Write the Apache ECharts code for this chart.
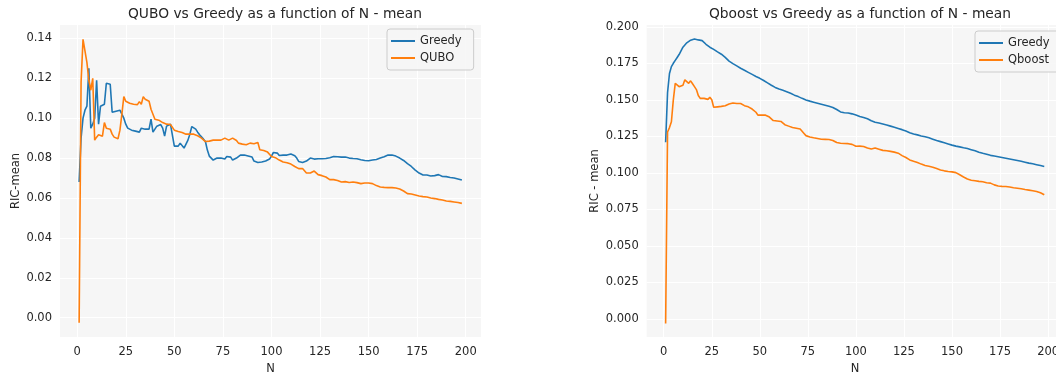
<!DOCTYPE html>
<html>
<head>
<meta charset="utf-8">
<script src="https://cdn.jsdelivr.net/npm/echarts@6/dist/echarts.min.js"></script>
<style>
  html, body { margin: 0; padding: 0; background: #ffffff; }
  #chart { width: 1056px; height: 374px; }
</style>
</head>
<body>
<div id="chart"></div>
<script>
// Mean RIC for N = 1 .. 198 selected features
const quboGreedy = [
  0.068, 0.090, 0.100, 0.104, 0.106, 0.125, 0.095, 0.097, 0.100, 0.119,
  0.097, 0.106, 0.106, 0.107, 0.1175, 0.1175, 0.117, 0.103, 0.103, 0.1035,
  0.104, 0.104, 0.102, 0.100, 0.097, 0.095, 0.0945, 0.094, 0.0938, 0.0935,
  0.093, 0.093, 0.095, 0.0945, 0.0945, 0.094, 0.0945, 0.0995, 0.093, 0.092,
  0.096, 0.097, 0.0968, 0.095, 0.091, 0.096, 0.0965, 0.097, 0.0978, 0.086,
  0.085, 0.086, 0.0875, 0.087, 0.085, 0.084, 0.089, 0.092, 0.0958, 0.095,
  0.0945, 0.093, 0.0917, 0.091, 0.0895, 0.0883, 0.084, 0.081, 0.080, 0.079,
  0.0795, 0.080, 0.0808, 0.080, 0.079, 0.0795, 0.0808, 0.081, 0.0805, 0.079,
  0.0795, 0.080, 0.081, 0.0815, 0.0817, 0.0815, 0.0815, 0.081, 0.081, 0.0805,
  0.0785, 0.0775, 0.0778, 0.078, 0.078, 0.0782, 0.0785, 0.079, 0.0795, 0.081,
  0.0828, 0.083, 0.0825, 0.0813, 0.0812, 0.0815, 0.0813, 0.0815, 0.0818, 0.082,
  0.0815, 0.0812, 0.080, 0.0783, 0.078, 0.0778, 0.078, 0.0785, 0.0795, 0.080,
  0.0798, 0.0795, 0.0797, 0.0797, 0.0795, 0.0797, 0.0795, 0.0798, 0.080, 0.0802,
  0.0805, 0.0808, 0.081, 0.0807, 0.0805, 0.0805, 0.0803, 0.0805, 0.0803, 0.080,
  0.0798, 0.0798, 0.080, 0.0797, 0.0795, 0.0792, 0.079, 0.0788, 0.0787, 0.0787,
  0.0788, 0.079, 0.0792, 0.0793, 0.0795, 0.080, 0.0803, 0.0807, 0.081, 0.0815,
  0.0817, 0.0815, 0.0812, 0.081, 0.0805, 0.080, 0.0795, 0.0788, 0.078, 0.0772,
  0.0767, 0.0758, 0.075, 0.074, 0.0733, 0.0725, 0.0717, 0.0715, 0.0717, 0.0715,
  0.0712, 0.071, 0.0712, 0.0712, 0.0715, 0.0717, 0.0712, 0.0708, 0.0705, 0.0707,
  0.0705, 0.0703, 0.0703, 0.070, 0.0698, 0.0695, 0.0692, 0.069
];
const quboValues = [
  -0.0025, 0.118, 0.1395, 0.1395, 0.128, 0.119, 0.114, 0.120, 0.089, 0.0905,
  0.0917, 0.0925, 0.091, 0.0978, 0.095, 0.095, 0.0945, 0.092, 0.0905, 0.0898,
  0.0897, 0.094, 0.102, 0.1108, 0.1085, 0.1075, 0.1075, 0.1073, 0.107, 0.107,
  0.1068, 0.1083, 0.107, 0.1108, 0.1095, 0.109, 0.1085, 0.1045, 0.102, 0.0995,
  0.099, 0.099, 0.0992, 0.0978, 0.0978, 0.097, 0.0965, 0.0968, 0.097, 0.094,
  0.0935, 0.0933, 0.093, 0.0928, 0.0925, 0.092, 0.0917, 0.092, 0.0925, 0.092,
  0.0915, 0.0912, 0.0905, 0.090, 0.0895, 0.0883, 0.0883, 0.0885, 0.0888, 0.089,
  0.0888, 0.089, 0.0892, 0.089, 0.0895, 0.090, 0.0895, 0.089, 0.0895, 0.090,
  0.0897, 0.0888, 0.0875, 0.0867, 0.087, 0.0868, 0.0867, 0.0872, 0.0875, 0.0873,
  0.0872, 0.0875, 0.0878, 0.0842, 0.084, 0.0838, 0.0835, 0.083, 0.082, 0.0808,
  0.0805, 0.0802, 0.080, 0.079, 0.0783, 0.078, 0.0778, 0.0777, 0.0775, 0.077,
  0.0763, 0.0758, 0.0752, 0.0747, 0.0745, 0.0748, 0.0738, 0.0725, 0.0718, 0.0725,
  0.0733, 0.0735, 0.0728, 0.0717, 0.0715, 0.0712, 0.0707, 0.0705, 0.0698, 0.0692,
  0.0693, 0.0692, 0.0692, 0.0688, 0.0683, 0.068, 0.068, 0.0682, 0.068, 0.0678,
  0.068, 0.068, 0.068, 0.0677, 0.0673, 0.0672, 0.0673, 0.0675, 0.0675, 0.0675,
  0.0673, 0.0672, 0.0668, 0.0662, 0.0657, 0.0655, 0.0655, 0.0653, 0.0652, 0.0652,
  0.0653, 0.0652, 0.0652, 0.065, 0.0648, 0.0645, 0.0642, 0.0635, 0.0627, 0.0622,
  0.062, 0.062, 0.0618, 0.0615, 0.0612, 0.061, 0.0608, 0.0607, 0.0605, 0.0605,
  0.0603, 0.060, 0.0597, 0.0597, 0.0595, 0.0593, 0.0592, 0.059, 0.0588, 0.0585,
  0.0585, 0.0583, 0.058, 0.058, 0.0578, 0.0577, 0.0575, 0.0573
];
const qboostGreedy = [
  0.121, 0.155, 0.168, 0.1727, 0.175, 0.177, 0.179, 0.181, 0.1835, 0.186,
  0.1875, 0.189, 0.190, 0.1908, 0.1914, 0.1916, 0.1914, 0.191, 0.1907, 0.1905,
  0.1895, 0.188, 0.187, 0.186, 0.185, 0.1845, 0.1835, 0.1828, 0.182, 0.1812,
  0.1803, 0.179, 0.1778, 0.1765, 0.1754, 0.1748, 0.174, 0.1732, 0.1725, 0.1716,
  0.1708, 0.1702, 0.1695, 0.1688, 0.168, 0.1674, 0.1667, 0.166, 0.1654, 0.1647,
  0.164, 0.1632, 0.1624, 0.1616, 0.1608, 0.160, 0.1592, 0.1585, 0.1578, 0.1574,
  0.157, 0.1566, 0.1562, 0.1556, 0.155, 0.1545, 0.1538, 0.1532, 0.1526, 0.1522,
  0.1516, 0.151, 0.1505, 0.1499, 0.1495, 0.1491, 0.1488, 0.1484, 0.148, 0.1477,
  0.1473, 0.147, 0.1466, 0.1463, 0.146, 0.1456, 0.1452, 0.1448, 0.1442, 0.1434,
  0.1425, 0.1417, 0.1413, 0.1412, 0.1411, 0.141, 0.1408, 0.1404, 0.140, 0.1396,
  0.1391, 0.1386, 0.1383, 0.1379, 0.1374, 0.137, 0.1364, 0.1357, 0.135, 0.1347,
  0.1344, 0.1341, 0.1338, 0.1335, 0.1331, 0.1328, 0.1324, 0.132, 0.1316, 0.1312,
  0.1308, 0.1304, 0.130, 0.1296, 0.1291, 0.1286, 0.128, 0.1275, 0.127, 0.1266,
  0.1263, 0.126, 0.1256, 0.1253, 0.125, 0.1247, 0.1244, 0.124, 0.1235, 0.1231,
  0.1227, 0.1222, 0.1218, 0.1214, 0.121, 0.1206, 0.1202, 0.1198, 0.1194, 0.119,
  0.1186, 0.1183, 0.118, 0.1178, 0.1175, 0.1172, 0.117, 0.1167, 0.1163, 0.1159,
  0.1155, 0.1151, 0.1146, 0.1141, 0.1137, 0.1134, 0.1131, 0.1128, 0.1124, 0.112,
  0.1117, 0.1115, 0.1112, 0.111, 0.1108, 0.1105, 0.1103, 0.110, 0.1098, 0.1095,
  0.1093, 0.109, 0.1088, 0.1085, 0.1082, 0.1079, 0.1076, 0.1073, 0.107, 0.1067,
  0.1064, 0.1062, 0.1059, 0.1056, 0.1053, 0.105, 0.1047, 0.1044
];
const qboostValues = [
  -0.003, 0.128, 0.131, 0.135, 0.150, 0.1613, 0.162, 0.159, 0.1595, 0.160,
  0.1637, 0.165, 0.1613, 0.163, 0.161, 0.159, 0.157, 0.153, 0.151, 0.1499,
  0.151, 0.1517, 0.1503, 0.1517, 0.150, 0.1449, 0.145, 0.1452, 0.1453, 0.1455,
  0.1458, 0.146, 0.1464, 0.1472, 0.1481, 0.1478, 0.147, 0.1475, 0.1485, 0.1475,
  0.1464, 0.146, 0.1458, 0.1452, 0.1445, 0.1437, 0.143, 0.1415, 0.1395, 0.1388,
  0.1395, 0.140, 0.1395, 0.1388, 0.1382, 0.137, 0.1358, 0.1356, 0.1355, 0.1354,
  0.1352, 0.1345, 0.133, 0.1325, 0.132, 0.1314, 0.131, 0.1308, 0.1305, 0.1302,
  0.130, 0.1288, 0.127, 0.1255, 0.1248, 0.1246, 0.1243, 0.124, 0.1238, 0.1235,
  0.1232, 0.123, 0.1228, 0.1229, 0.1227, 0.1228, 0.1226, 0.1222, 0.1215, 0.1208,
  0.1205, 0.1203, 0.1202, 0.1201, 0.1202, 0.120, 0.120, 0.1195, 0.1188, 0.1182,
  0.1181, 0.1183, 0.1182, 0.1181, 0.1176, 0.117, 0.1164, 0.1163, 0.1167, 0.117,
  0.1168, 0.1162, 0.1157, 0.1154, 0.1153, 0.1151, 0.1148, 0.1147, 0.1145, 0.1142,
  0.1138, 0.1135, 0.1128, 0.1118, 0.1112, 0.1105, 0.1095, 0.1089, 0.1085, 0.1079,
  0.1073, 0.1071, 0.1066, 0.106, 0.1055, 0.105, 0.1048, 0.1045, 0.1042, 0.1039,
  0.1035, 0.103, 0.1024, 0.102, 0.1017, 0.1014, 0.1012, 0.101, 0.1009, 0.1007,
  0.1005, 0.1002, 0.0995, 0.0987, 0.098, 0.0972, 0.0965, 0.0958, 0.0952, 0.095,
  0.0948, 0.0946, 0.0944, 0.0942, 0.0941, 0.0939, 0.0936, 0.0933, 0.0931, 0.093,
  0.0925, 0.0918, 0.0912, 0.091, 0.0909, 0.0908, 0.0907, 0.0907, 0.0906, 0.0903,
  0.0901, 0.0898, 0.0896, 0.0895, 0.0893, 0.0891, 0.0888, 0.0886, 0.0884, 0.0882,
  0.088, 0.0878, 0.0875, 0.0873, 0.0869, 0.0864, 0.0857, 0.085
];

const xTicks = [0, 25, 50, 75, 100, 125, 150, 175, 200];
const leftYTicks = [0, 0.02, 0.04, 0.06, 0.08, 0.10, 0.12, 0.14];
const rightYTicks = [0, 0.025, 0.05, 0.075, 0.1, 0.125, 0.15, 0.175, 0.2];

// x position of each value is its N (1-based)
const pairs = vals => vals.map((v, i) => [i + 1, v]);

const FONT = 'DejaVu Sans';
const TEXT = '#262626';
const BLUE = '#1f77b4';
const ORANGE = '#ff7f0e';

function xAxis(gridIndex) {
  return {
    type: 'value', gridIndex,
    min: -8.85, max: 207.85,
    name: 'N', nameLocation: 'middle', nameGap: 22,
    nameTextStyle: { fontFamily: FONT, fontSize: 11.5, color: TEXT },
    axisLine: { show: false },
    axisTick: { show: false, customValues: xTicks },
    axisLabel: { customValues: xTicks, fontFamily: FONT, fontSize: 11.5, color: TEXT, margin: 9 },
    splitLine: { show: true, lineStyle: { color: '#ffffff', width: 1 } }
  };
}

function yAxis(gridIndex, min, max, ticks, digits, name, gap) {
  return {
    type: 'value', gridIndex, min, max,
    name, nameLocation: 'middle', nameGap: gap,
    nameTextStyle: { fontFamily: FONT, fontSize: 11.5, color: TEXT },
    axisLine: { show: false },
    axisTick: { show: false, customValues: ticks },
    axisLabel: {
      customValues: ticks, fontFamily: FONT, fontSize: 11.5, color: TEXT, margin: 8,
      formatter: v => Number(v).toFixed(digits)
    },
    splitLine: { show: true, lineStyle: { color: '#ffffff', width: 1 } }
  };
}

function line(name, data, color, idx) {
  return {
    type: 'line', name, data: pairs(data),
    xAxisIndex: idx, yAxisIndex: idx,
    symbol: 'none', animation: false,
    lineStyle: { color, width: 1.6 },
    itemStyle: { color }
  };
}

function legend(names, left, top) {
  return {
    data: names, orient: 'vertical', left, top,
    icon: 'rect', itemWidth: 24, itemHeight: 2, itemGap: 5,
    padding: [6, 12, 6, 4],
    backgroundColor: 'rgba(246,246,246,0.85)',
    borderColor: '#cccccc', borderWidth: 1, borderRadius: 3,
    textStyle: { fontFamily: FONT, fontSize: 11.5, color: TEXT },
    selectedMode: false
  };
}

function plotArea(left, width) {
  return {
    left, top: 25, width, height: 312,
    outerBoundsMode: 'none', containLabel: false,
    backgroundColor: '#f6f6f6', show: true, borderWidth: 0
  };
}

const chart = echarts.init(document.getElementById('chart'), null, { renderer: 'canvas' });
chart.setOption({
  backgroundColor: '#ffffff',
  animation: false,
  title: [
    { text: 'QUBO vs Greedy as a function of N - mean', left: 270, top: 2, textAlign: 'center',
      textStyle: { fontFamily: FONT, fontSize: 13.8, fontWeight: 'normal', color: TEXT } },
    { text: 'Qboost vs Greedy as a function of N - mean', left: 855, top: 2, textAlign: 'center',
      textStyle: { fontFamily: FONT, fontSize: 13.8, fontWeight: 'normal', color: TEXT } }
  ],
  grid: [plotArea(60, 421), plotArea(646.7, 416.5)],
  xAxis: [xAxis(0), xAxis(1)],
  yAxis: [
    yAxis(0, -0.00967, 0.1467, leftYTicks, 2, 'RIC-mean', 38),
    yAxis(1, -0.0123, 0.2012, rightYTicks, 3, 'RIC - mean', 46)
  ],
  legend: [
    legend(['Greedy', 'QUBO'], 387, 29),
    legend(['Greedy', 'Qboost'], 975, 31)
  ],
  series: [
    line('Greedy', quboGreedy, BLUE, 0),
    line('QUBO', quboValues, ORANGE, 0),
    line('Greedy', qboostGreedy, BLUE, 1),
    line('Qboost', qboostValues, ORANGE, 1)
  ]
});
</script>
</body>
</html>
